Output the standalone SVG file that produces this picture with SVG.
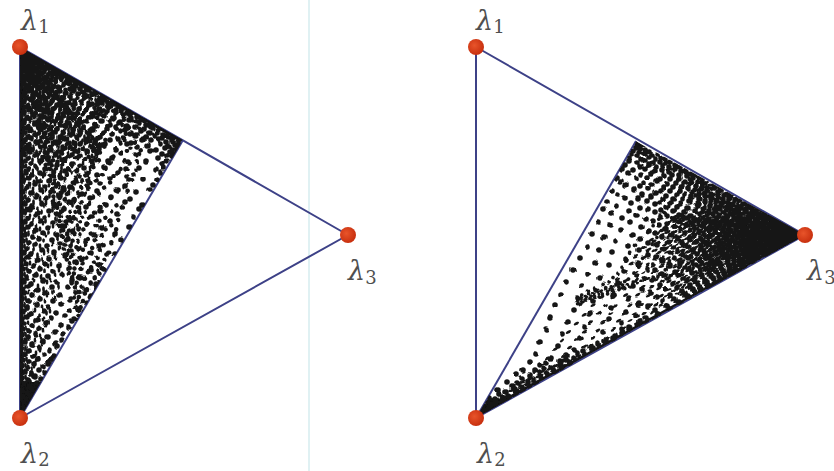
<svg xmlns="http://www.w3.org/2000/svg" width="834" height="471" viewBox="0 0 834 471">
<defs>
<radialGradient id="vg" cx="0.4" cy="0.4" r="0.6">
<stop offset="0" stop-color="#e8542a"/>
<stop offset="1" stop-color="#c8300f"/>
</radialGradient>
<filter id="jit" filterUnits="userSpaceOnUse" x="0" y="0" width="834" height="471">
<feTurbulence type="fractalNoise" baseFrequency="0.05" numOctaves="1" seed="5" result="n"/>
<feDisplacementMap in="SourceGraphic" in2="n" scale="7" xChannelSelector="R" yChannelSelector="G"/>
</filter>
<clipPath id="clipL"><polygon points="20,47 183,140 20,418"/></clipPath>
<clipPath id="clipR"><polygon points="636,141 805,235 476,418"/></clipPath>
<style>
.edge{fill:none;stroke:#3d4187;stroke-width:2;stroke-linejoin:round}
.dots{fill:none;stroke:#141414;stroke-width:5.6;stroke-linecap:round}
.solid{fill:#141414;stroke:none}
.vtx{fill:url(#vg)}
.lab{font-family:"DejaVu Serif","Liberation Serif",serif;font-style:italic;font-size:27px;fill:#4f4f4f}
.sub{font-style:normal;font-size:18px}
</style>
<path id="dl" class="dots" d="M23 52h0M26 54h0M23 56h0M27 58h0M31 55h0M22 61h0M26 59h0M30 62h0M35 60h0M39 61h0M24 64h0M29 66h0M33 63h0M38 65h0M43 62h0M47 64h0M22 69h0M27 67h0M31 70h0M36 68h0M41 66h0M45 69h0M50 68h0M54 70h0M23 72h0M28 74h0M34 71h0M38 73h0M44 70h0M49 74h0M53 72h0M58 71h0M61 74h0M22 76h0M26 78h0M31 75h0M35 77h0M41 74h0M46 78h0M52 76h0M57 74h0M62 77h0M66 76h0M69 78h0M24 81h0M29 79h0M33 82h0M39 80h0M45 78h0M50 82h0M55 80h0M61 78h0M67 81h0M71 79h0M75 81h0M22 84h0M27 86h0M36 83h0M42 85h0M48 82h0M58 86h0M64 84h0M69 82h0M74 85h0M79 83h0M83 86h0M25 88h0M31 90h0M38 87h0M46 89h0M53 86h0M60 90h0M71 88h0M77 86h0M82 89h0M86 87h0M90 90h0M23 93h0M28 91h0M35 94h0M44 92h0M51 90h0M57 94h0M66 92h0M75 90h0M84 93h0M89 91h0M93 94h0M97 93h0M21 96h0M26 98h0M33 95h0M40 97h0M49 94h0M62 98h0M70 96h0M79 94h0M88 97h0M95 95h0M100 98h0M104 97h0M24 101h0M30 99h0M37 102h0M45 100h0M55 98h0M67 102h0M74 100h0M85 98h0M97 101h0M103 99h0M107 102h0M111 101h0M22 104h0M28 106h0M34 103h0M42 105h0M52 102h0M60 106h0M72 104h0M81 102h0M92 105h0M101 103h0M110 106h0M114 104h0M118 106h0M25 108h0M31 110h0M39 107h0M47 109h0M57 106h0M66 110h0M78 108h0M89 106h0M99 109h0M108 107h0M116 110h0M121 108h0M125 109h0M23 113h0M29 111h0M36 114h0M44 112h0M53 110h0M63 114h0M75 112h0M86 110h0M96 113h0M106 111h0M115 114h0M122 112h0M128 114h0M131 113h0M21 116h0M27 118h0M33 115h0M41 117h0M50 114h0M61 118h0M71 116h0M83 114h0M94 117h0M103 115h0M113 118h0M124 116h0M131 118h0M137 117h0M24 121h0M30 119h0M38 122h0M47 120h0M58 118h0M68 122h0M80 120h0M92 118h0M101 121h0M112 119h0M120 122h0M129 120h0M136 122h0M141 120h0M145 121h0M22 124h0M28 126h0M35 123h0M43 125h0M54 122h0M65 126h0M77 124h0M88 122h0M109 125h0M118 123h0M127 126h0M139 124h0M146 126h0M151 125h0M25 128h0M31 130h0M39 127h0M50 129h0M61 126h0M72 130h0M84 128h0M96 126h0M106 129h0M115 127h0M126 130h0M135 128h0M143 130h0M152 129h0M158 130h0M23 133h0M29 131h0M36 134h0M46 132h0M57 130h0M69 134h0M80 132h0M93 130h0M103 133h0M121 131h0M131 134h0M140 132h0M149 134h0M157 133h0M163 134h0M166 135h0M21 136h0M27 138h0M34 135h0M42 137h0M53 134h0M64 138h0M76 136h0M89 134h0M100 137h0M112 135h0M124 138h0M136 136h0M145 138h0M154 136h0M162 138h0M169 137h0M173 138h0M24 141h0M30 139h0M38 142h0M49 140h0M60 138h0M73 142h0M86 140h0M98 138h0M110 141h0M118 139h0M132 142h0M142 140h0M150 141h0M158 139h0M166 142h0M172 141h0M178 142h0M22 144h0M28 146h0M35 143h0M45 145h0M56 142h0M69 146h0M80 144h0M95 142h0M105 145h0M128 143h0M147 146h0M160 144h0M168 146h0M174 144h0M178 145h0M25 148h0M31 150h0M40 147h0M51 149h0M62 146h0M75 150h0M91 148h0M102 146h0M116 149h0M138 147h0M155 150h0M165 148h0M171 149h0M176 148h0M23 153h0M29 151h0M37 154h0M47 152h0M58 150h0M72 154h0M86 152h0M99 150h0M121 153h0M150 151h0M162 154h0M170 152h0M174 153h0M21 156h0M27 158h0M34 155h0M43 157h0M55 154h0M66 158h0M79 156h0M96 154h0M112 157h0M136 155h0M158 158h0M167 156h0M172 157h0M24 162h0M30 164h0M40 161h0M50 163h0M62 160h0M74 164h0M92 162h0M108 160h0M128 163h0M146 161h0M162 164h0M167 162h0M22 168h0M28 170h0M36 167h0M46 169h0M57 166h0M70 170h0M85 168h0M105 166h0M125 169h0M138 167h0M155 170h0M163 168h0M25 174h0M32 176h0M41 173h0M53 175h0M66 172h0M80 176h0M98 174h0M117 172h0M132 175h0M160 173h0M23 181h0M29 179h0M38 182h0M48 180h0M61 178h0M76 182h0M89 180h0M110 178h0M128 181h0M143 179h0M157 180h0M21 186h0M27 188h0M34 185h0M44 187h0M57 184h0M70 188h0M87 186h0M100 184h0M125 187h0M153 186h0M24 192h0M31 194h0M40 191h0M51 193h0M64 190h0M81 194h0M97 192h0M118 190h0M137 193h0M150 191h0M22 198h0M28 200h0M36 197h0M47 199h0M60 196h0M74 200h0M90 198h0M111 196h0M130 199h0M25 204h0M32 206h0M42 203h0M55 205h0M69 202h0M87 206h0M106 204h0M125 202h0M142 205h0M23 211h0M29 209h0M38 212h0M50 210h0M63 208h0M80 212h0M100 210h0M139 209h0M21 216h0M27 218h0M35 215h0M45 217h0M58 214h0M73 218h0M93 216h0M118 214h0M133 217h0M24 222h0M31 224h0M41 221h0M54 223h0M68 220h0M88 224h0M110 222h0M22 229h0M28 227h0M37 230h0M49 228h0M62 226h0M79 230h0M101 228h0M128 227h0M25 234h0M33 236h0M44 233h0M57 235h0M72 232h0M95 236h0M115 234h0M23 240h0M29 242h0M39 239h0M52 241h0M67 238h0M86 242h0M121 240h0M21 246h0M27 248h0M35 245h0M47 247h0M60 244h0M78 248h0M100 246h0M24 252h0M31 254h0M42 251h0M55 253h0M70 250h0M92 254h0M114 252h0M22 259h0M28 257h0M38 260h0M50 258h0M65 256h0M82 260h0M25 264h0M33 266h0M45 263h0M59 265h0M76 262h0M98 266h0M23 270h0M29 272h0M40 269h0M53 271h0M69 268h0M90 272h0M104 270h0M21 276h0M27 278h0M36 275h0M48 277h0M62 274h0M80 278h0M24 282h0M31 284h0M43 281h0M56 283h0M72 280h0M95 284h0M22 289h0M28 287h0M38 290h0M51 288h0M67 286h0M85 290h0M25 294h0M33 296h0M45 293h0M59 295h0M76 292h0M90 296h0M23 300h0M29 302h0M40 299h0M54 301h0M70 298h0M21 306h0M27 308h0M36 305h0M48 307h0M62 304h0M80 308h0M24 312h0M31 314h0M43 311h0M57 313h0M71 310h0M22 319h0M28 317h0M38 320h0M51 318h0M66 316h0M75 319h0M25 324h0M33 326h0M46 323h0M60 325h0M72 322h0M23 330h0M29 332h0M40 329h0M54 331h0M68 328h0M21 336h0M27 338h0M36 335h0M48 337h0M62 334h0M24 342h0M31 344h0M43 341h0M56 343h0M62 340h0M22 348h0M28 350h0M38 347h0M50 349h0M58 346h0M25 354h0M33 356h0M44 353h0M55 355h0M23 360h0M29 362h0M38 359h0M49 361h0M52 358h0M21 366h0M27 368h0M34 365h0M43 367h0M48 364h0M24 372h0M31 374h0M39 371h0M45 373h0M22 378h0M28 380h0M35 377h0M41 379h0M25 384h0M31 386h0M37 383h0M23 390h0M28 392h0M34 389h0M21 396h0M26 398h0M31 395h0M23 402h0M27 404h0M22 408h0M25 410h0"/>
<path id="dr" class="dots" d="M637 146h0M641 147h0M634 150h0M640 151h0M646 149h0M650 151h0M632 154h0M638 155h0M645 153h0M652 155h0M658 154h0M630 158h0M641 159h0M648 157h0M655 159h0M661 158h0M666 159h0M629 162h0M637 163h0M644 161h0M652 163h0M660 162h0M666 163h0M671 162h0M625 166h0M640 167h0M648 165h0M656 167h0M663 166h0M670 167h0M676 165h0M680 167h0M622 170h0M633 171h0M645 169h0M655 171h0M662 170h0M669 171h0M675 169h0M681 171h0M686 170h0M628 174h0M641 175h0M652 173h0M664 175h0M672 174h0M679 175h0M685 173h0M690 175h0M694 174h0M617 178h0M636 179h0M648 177h0M660 179h0M670 178h0M679 179h0M686 177h0M692 179h0M698 178h0M703 179h0M621 182h0M644 183h0M657 181h0M667 183h0M676 182h0M684 183h0M690 181h0M697 183h0M702 182h0M707 183h0M626 186h0M640 187h0M652 185h0M663 187h0M673 186h0M681 187h0M689 185h0M696 187h0M703 186h0M709 187h0M715 186h0M612 190h0M634 191h0M648 189h0M660 191h0M670 190h0M680 191h0M688 189h0M695 191h0M702 190h0M708 191h0M714 189h0M720 191h0M618 194h0M642 195h0M655 193h0M666 195h0M677 194h0M685 195h0M693 193h0M700 195h0M706 194h0M712 195h0M718 193h0M724 195h0M729 194h0M625 198h0M638 199h0M651 197h0M663 199h0M673 198h0M683 199h0M692 197h0M699 199h0M706 198h0M712 199h0M718 197h0M723 199h0M729 198h0M735 199h0M606 202h0M631 203h0M647 201h0M660 203h0M671 202h0M681 203h0M690 201h0M698 203h0M705 202h0M711 203h0M717 201h0M722 203h0M728 202h0M733 203h0M739 201h0M616 206h0M640 207h0M655 205h0M667 207h0M678 206h0M688 207h0M697 205h0M704 207h0M710 206h0M716 207h0M721 205h0M727 207h0M732 206h0M737 207h0M743 205h0M748 207h0M603 210h0M629 211h0M648 209h0M662 211h0M674 210h0M685 211h0M694 209h0M702 211h0M709 210h0M715 211h0M720 209h0M726 211h0M731 210h0M736 211h0M741 209h0M746 211h0M752 210h0M756 211h0M612 214h0M637 215h0M655 213h0M668 215h0M680 214h0M690 215h0M699 213h0M707 215h0M713 214h0M719 215h0M724 213h0M730 215h0M735 214h0M740 215h0M745 213h0M750 215h0M755 214h0M760 215h0M764 214h0M622 218h0M645 219h0M661 217h0M674 219h0M685 218h0M695 219h0M703 217h0M710 219h0M717 218h0M723 219h0M728 217h0M734 219h0M739 218h0M744 219h0M749 217h0M754 219h0M759 218h0M764 219h0M768 218h0M773 219h0M598 222h0M630 223h0M652 221h0M667 223h0M679 222h0M690 223h0M699 221h0M707 223h0M714 222h0M721 223h0M727 221h0M732 223h0M738 222h0M743 223h0M748 221h0M753 223h0M758 222h0M763 223h0M767 221h0M772 223h0M776 222h0M780 223h0M610 226h0M640 227h0M659 225h0M673 227h0M685 226h0M695 227h0M704 225h0M712 227h0M719 226h0M725 227h0M731 225h0M736 227h0M741 226h0M746 227h0M751 225h0M756 227h0M760 226h0M765 227h0M770 225h0M774 227h0M779 226h0M784 227h0M788 226h0M620 230h0M648 231h0M665 229h0M679 231h0M690 230h0M700 231h0M709 229h0M717 231h0M724 230h0M730 231h0M736 229h0M741 231h0M746 230h0M751 231h0M756 229h0M761 231h0M766 230h0M770 231h0M775 229h0M780 231h0M784 230h0M789 231h0M793 230h0M592 234h0M633 235h0M655 233h0M671 235h0M684 234h0M695 235h0M705 233h0M713 235h0M721 234h0M728 235h0M734 233h0M740 235h0M745 234h0M750 235h0M755 233h0M760 235h0M765 234h0M770 235h0M775 233h0M780 235h0M785 234h0M790 235h0M795 234h0M800 235h0M603 238h0M640 239h0M662 237h0M677 239h0M690 238h0M701 239h0M710 237h0M718 239h0M726 238h0M732 239h0M738 237h0M744 239h0M749 238h0M754 239h0M759 237h0M764 239h0M769 238h0M774 239h0M779 237h0M784 239h0M789 238h0M794 239h0M615 242h0M648 243h0M668 241h0M683 243h0M695 242h0M705 243h0M714 241h0M722 243h0M729 242h0M735 243h0M741 241h0M747 243h0M752 242h0M757 243h0M762 241h0M767 243h0M772 242h0M777 243h0M782 241h0M787 243h0M588 246h0M630 247h0M656 245h0M674 247h0M688 246h0M700 247h0M709 245h0M718 247h0M726 246h0M733 247h0M739 245h0M745 247h0M750 246h0M755 247h0M760 245h0M765 247h0M770 246h0M775 247h0M780 245h0M600 250h0M640 251h0M663 249h0M679 251h0M692 250h0M703 251h0M712 249h0M720 251h0M728 250h0M734 251h0M740 249h0M745 251h0M750 250h0M756 251h0M761 249h0M766 251h0M771 250h0M775 251h0M612 254h0M648 255h0M669 253h0M684 255h0M696 254h0M706 255h0M715 253h0M723 255h0M730 254h0M736 255h0M742 253h0M747 255h0M752 254h0M757 255h0M762 253h0M767 255h0M580 258h0M627 259h0M656 257h0M674 259h0M688 258h0M700 259h0M710 257h0M718 259h0M726 258h0M732 259h0M738 257h0M743 259h0M748 258h0M753 259h0M758 257h0M595 262h0M638 263h0M662 261h0M679 263h0M692 262h0M703 263h0M712 261h0M720 263h0M727 262h0M733 263h0M739 261h0M744 263h0M749 262h0M754 263h0M608 266h0M647 267h0M668 265h0M684 267h0M696 266h0M706 267h0M715 265h0M722 267h0M729 266h0M735 267h0M740 265h0M745 267h0M572 270h0M624 271h0M655 269h0M673 271h0M688 270h0M700 271h0M709 269h0M717 271h0M724 270h0M730 271h0M735 269h0M740 271h0M588 274h0M636 275h0M661 273h0M678 275h0M691 274h0M702 275h0M711 273h0M719 275h0M725 274h0M731 275h0M734 273h0M600 278h0M645 279h0M667 277h0M683 279h0M695 278h0M705 279h0M713 277h0M720 279h0M726 278h0M566 282h0M618 283h0M653 281h0M673 283h0M687 282h0M698 283h0M707 281h0M714 283h0M719 282h0M583 286h0M632 287h0M660 285h0M678 287h0M691 286h0M701 287h0M709 285h0M713 285h0M597 290h0M642 291h0M666 289h0M682 291h0M694 290h0M703 289h0M560 294h0M614 295h0M650 293h0M671 295h0M685 294h0M696 293h0M578 298h0M628 299h0M657 297h0M675 299h0M688 297h0M592 302h0M639 303h0M663 301h0M679 302h0M555 306h0M611 307h0M648 305h0M668 307h0M680 304h0M573 310h0M626 311h0M655 309h0M670 310h0M590 314h0M637 315h0M658 313h0M550 318h0M608 319h0M645 317h0M655 318h0M568 322h0M622 323h0M640 321h0M646 322h0M585 326h0M630 327h0M638 325h0M545 330h0M604 331h0M622 329h0M630 330h0M563 334h0M615 335h0M622 333h0M580 338h0M606 339h0M613 337h0M540 342h0M597 343h0M604 341h0M558 346h0M590 347h0M597 345h0M575 350h0M584 351h0M592 349h0M536 354h0M566 355h0M578 353h0M552 358h0M565 359h0M573 357h0M530 362h0M547 363h0M560 361h0M568 362h0M540 366h0M552 367h0M560 365h0M524 370h0M535 371h0M545 369h0M555 370h0M517 374h0M530 375h0M540 373h0M548 374h0M522 378h0M533 379h0M541 377h0M507 382h0M517 383h0M527 381h0M535 382h0M512 386h0M520 387h0M528 385h0M499 390h0M506 391h0M514 389h0M521 390h0M500 394h0M508 395h0M515 394h0M490 398h0M496 399h0M503 397h0M509 398h0M489 402h0M496 403h0M502 401h0M484 406h0M490 407h0M495 405h0M483 410h0M488 411h0"/>
</defs>
<rect width="834" height="471" fill="#ffffff"/>
<line x1="309" y1="0" x2="309" y2="471" stroke="#d6ecef" stroke-width="1.5"/>
<g id="connectors">
<polygon class="edge" points="20,47 20,418 348,235"/>
<line class="edge" x1="20" y1="418" x2="183" y2="140"/>
<polygon class="edge" points="476,47 476,418 805,235"/>
<line class="edge" x1="476" y1="418" x2="636" y2="141"/>
</g>
<g id="left-samples" clip-path="url(#clipL)">
<polygon class="solid" points="20,47 183,140 180,142 100,95 22,51"/>
<polygon class="solid" points="20,47 42,60 21,68"/>
<polygon class="solid" points="20,47 23,52 23,415 20,418"/>
<polygon class="solid" points="20,382 42,382 21,418"/>
<g filter="url(#jit)">
<use href="#dl"/>
<use href="#dl" transform="matrix(0.7825,-0.1663,0.1663,0.7825,-3.47,13.55)"/>
<use href="#dl" transform="matrix(0.5,0,0,1,10,3)"/>
</g>
</g>
<g id="right-samples" clip-path="url(#clipR)">
<polygon class="solid" points="805,235 765,213 775,235 767,256"/>
<polygon class="solid" points="800,237 480,415 482,411 790,240"/>
<polygon class="solid" points="476,418 489,398 511,399"/>
<polygon class="solid" points="636,141 646,147 634,147"/>
<g filter="url(#jit)">
<use href="#dr"/>
<use href="#dr" transform="matrix(0.6358,0.1351,-0.1351,0.6358,324.93,-23.17)"/>
<use href="#dr" transform="matrix(0.882,-0.2125,-0.2125,0.618,144.93,260.83)"/>
</g>
</g>
<g id="left-lambda1"><circle class="vtx" cx="20" cy="47" r="8"/><text class="lab" x="21" y="30">λ<tspan class="sub" dy="3">1</tspan></text></g>
<g id="left-lambda2"><circle class="vtx" cx="20" cy="418" r="8"/><text class="lab" x="21" y="463">λ<tspan class="sub" dy="3">2</tspan></text></g>
<g id="left-lambda3"><circle class="vtx" cx="348" cy="235" r="8"/><text class="lab" x="348" y="280">λ<tspan class="sub" dy="4">3</tspan></text></g>
<g id="right-lambda1"><circle class="vtx" cx="476" cy="47" r="8"/><text class="lab" x="476" y="30">λ<tspan class="sub" dy="3">1</tspan></text></g>
<g id="right-lambda2"><circle class="vtx" cx="476" cy="418" r="8"/><text class="lab" x="477" y="463">λ<tspan class="sub" dy="3">2</tspan></text></g>
<g id="right-lambda3"><circle class="vtx" cx="805" cy="235" r="8"/><text class="lab" x="807" y="280">λ<tspan class="sub" dy="4">3</tspan></text></g>
</svg>
